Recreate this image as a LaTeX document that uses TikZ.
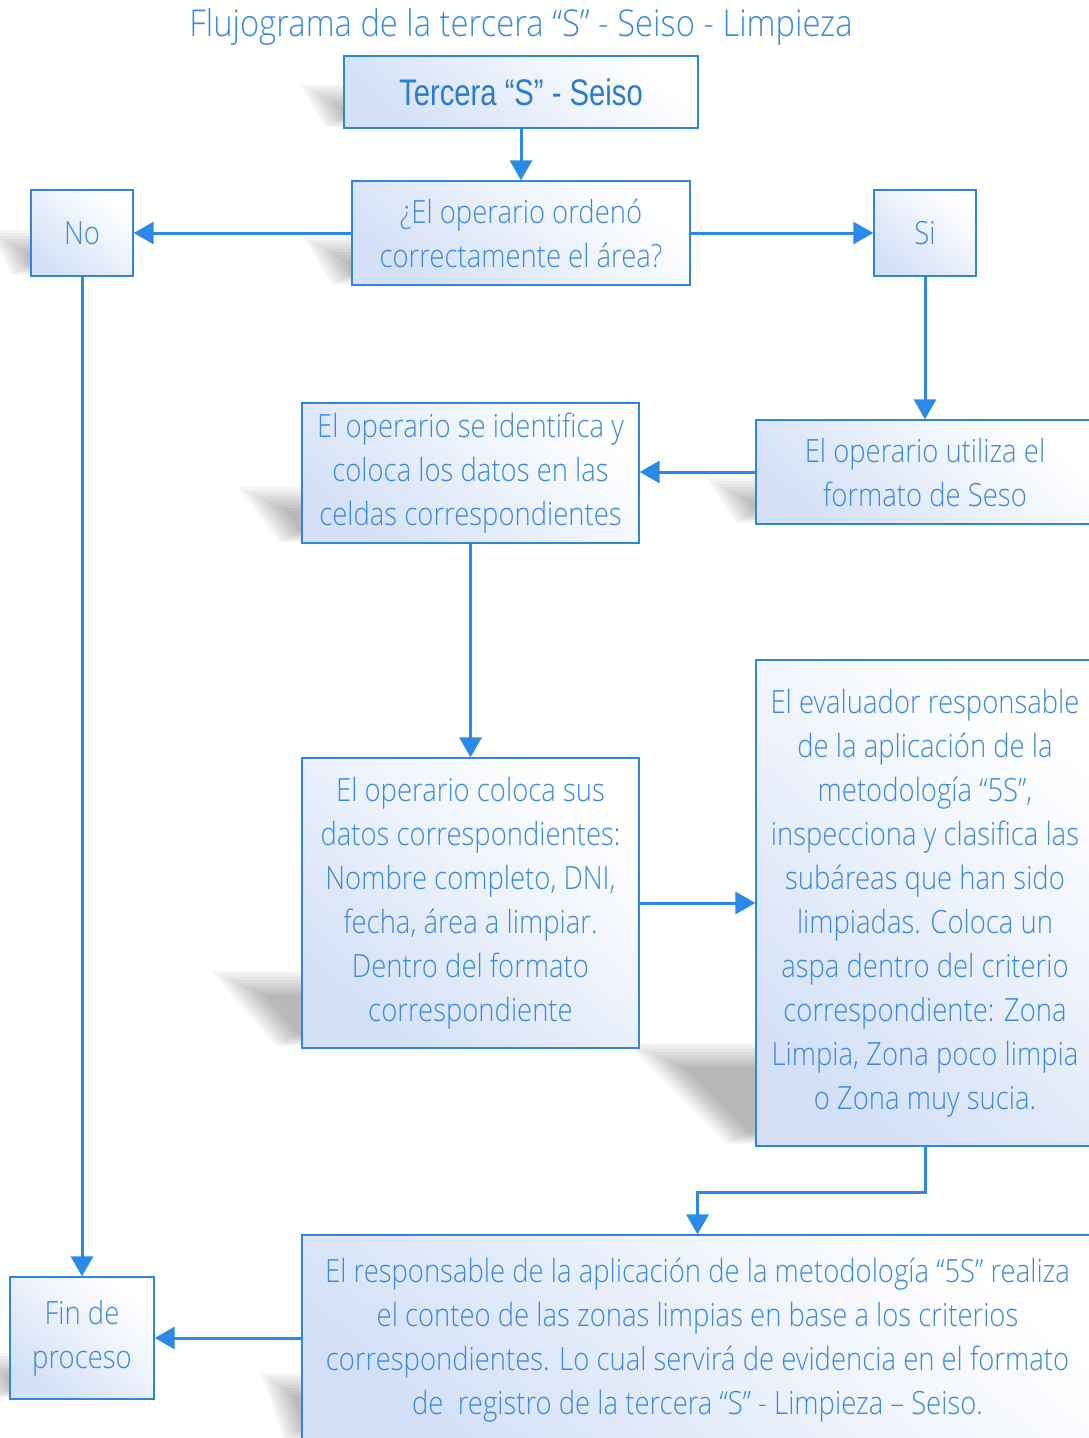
\documentclass[tikz,border=0pt]{standalone}
\usepackage{fontspec}
\setmainfont{Open Sans Light}[FakeStretch=0.858]
\newfontfamily\headfont{Liberation Sans}[FakeStretch=0.79]
\usetikzlibrary{arrows.meta,backgrounds}

\definecolor{txtblue}{HTML}{3C8ADA}
\definecolor{headblue}{HTML}{2B7BD0}
\definecolor{edgeblue}{HTML}{2E86E0}
\definecolor{lineblue}{HTML}{2B8AE8}
\definecolor{fillblue}{HTML}{D3E0F7}
\definecolor{fillmid}{HTML}{EAF0FB}

\tikzset{
  flowbox/.style={draw=edgeblue, line width=1.3pt, inner sep=0pt,
    left color=fillblue, right color=white, middle color=fillmid,
    shading angle=140, align=center, text=txtblue,
    font=\fontsize{32}{44}\selectfont},
  conn/.style={draw=lineblue, line width=3pt,
    -{Triangle[length=20pt,width=22pt]}},
  shadelayer/.style={fill=black, opacity=0.035},
}

% soft slanted shadow leaning up-left from the lower-left corner of a box.
% #1 = left x of the box, #2 = bottom y, #3 = shadow height, #4 = slant, #5 = extra reach at the bottom
% built from nested parallelograms; inner layers stop short of the bottom so it fades there too
\newcommand\boxshade[5]{%
  \pgfmathsetmacro\slk{sqrt(1+(#4/#3)^2)}%
  \foreach \d in {-15,-12,...,9}{%
    \pgfmathsetmacro\eb{(\d+15)/2}%
    \pgfmathsetmacro\bl{#1-#5-#4*\eb/#3+\d*\slk}%
    \pgfmathsetmacro\tl{#1-#5-#4+#4*\d/#3+\d*\slk}%
    \fill[shadelayer] (\bl,#2-\eb) -- (#1+60,#2-\eb) -- (#1+60,#2-#3+\d) -- (\tl,#2-#3+\d) -- cycle;
  }%
}

\begin{document}
\begin{tikzpicture}[x=1pt,y=-1pt]
\useasboundingbox (0,0) rectangle (1089,1438);

\node (title) at (521,27) {\color{txtblue}\fontsize{37}{48}\selectfont\addfontfeature{FakeStretch=0.885}Flujograma de la tercera “S” - Seiso - Limpieza};

\node[flowbox, minimum width=354pt, minimum height=72pt, text=headblue,
      font=\headfont\fontsize{37}{44}\selectfont] (start) at (521,92) {Tercera “S” - Seiso};
\node[flowbox, minimum width=338pt, minimum height=104pt] (ask) at (521,233)
  {¿El operario ordenó\\correctamente el área?};
\node[flowbox, minimum width=102pt, minimum height=86pt] (no) at (82,233) {No};
\node[flowbox, minimum width=102pt, minimum height=86pt] (si) at (925,233) {Si};
\node[flowbox, minimum width=338pt, minimum height=104pt] (formato) at (925,472)
  {El operario utiliza el\\formato de Seso};
\node[flowbox, minimum width=337pt, minimum height=140pt] (ident) at (470.5,473)
  {El operario se identifica y\\coloca los datos en las\\celdas correspondientes};
\node[flowbox, minimum width=337pt, minimum height=290pt] (datos) at (470.5,903)
  {El operario coloca sus\\datos correspondientes:\\Nombre completo, DNI,\\fecha, área a limpiar.\\Dentro del formato\\correspondiente};
\node[flowbox, minimum width=338pt, minimum height=486pt] (evalua) at (925,903)
  {El evaluador responsable\\de la aplicación de la\\metodología “5S”,\\inspecciona y clasifica las\\subáreas que han sido\\limpiadas. Coloca un\\aspa dentro del criterio\\correspondiente: Zona\\Limpia, Zona poco limpia\\o Zona muy sucia.};
\node[flowbox, minimum width=791pt, minimum height=210pt] (conteo) at (697.5,1340)
  {El responsable de la aplicación de la metodología “5S” realiza\\el conteo de las zonas limpias en base a los criterios\\correspondientes. Lo cual servirá de evidencia en el formato\\de\ \ registro de la tercera “S” - Limpieza – Seiso.};
\node[flowbox, minimum width=144pt, minimum height=122pt] (fin) at (82,1338)
  {Fin de\\proceso};

\begin{scope}[on background layer]
  \boxshade{344}{127}{28}{16}{2}
  \boxshade{352}{284}{32}{20}{2}
  \boxshade{31}{275}{30}{16}{2}
  \boxshade{756}{523}{30}{20}{2}
  \boxshade{302}{542}{40}{30}{4}
  \boxshade{302}{1046}{60}{52}{6}
  \boxshade{756}{1144}{86}{86}{8}
  \boxshade{10}{1398}{30}{14}{2}
  \boxshade{302}{1440}{52}{18}{2}
\end{scope}

\draw[conn] (start) -- (ask);
\draw[conn] (ask) -- (no);
\draw[conn] (ask) -- (si);
\draw[conn] (si) -- (formato);
\draw[conn] (formato.west) -- (formato.west -| ident.east);
\draw[conn] (ident) -- (datos);
\draw[conn] (datos) -- (evalua);
\draw[conn] (evalua.south) -- ++(0,46) -| (conteo.north);
\draw[conn] (no) -- (fin);
\draw[conn] (conteo.west |- fin.east) -- (fin.east);
\end{tikzpicture}
\end{document}
